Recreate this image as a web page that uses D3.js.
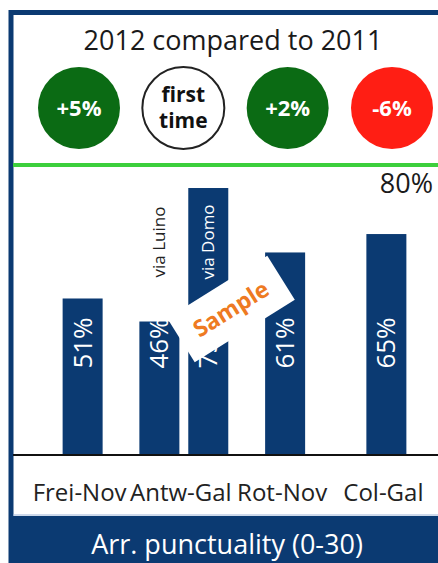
<!DOCTYPE html>
<html>
<head>
<meta charset="utf-8">
<script src="https://cdn.jsdelivr.net/npm/d3@7"></script>
<style>
  body { margin: 0; background: #fff; }
  text { font-family: "Open Sans", "Noto Sans", sans-serif; }
</style>
</head>
<body>
<svg id="chart" width="438" height="563"></svg>
<script>
// data
var title = "2012 compared to 2011";
var categories = ["Frei-Nov", "Antw-Gal", "Rot-Nov", "Col-Gal"];
var changes = ["+5%", "first time", "+2%", "-6%"];
var barRoute = ["Frei-Nov", "Antw-Gal", "Antw-Gal", "Rot-Nov", "Col-Gal"];
var barVia = ["", "via Luino", "via Domo", "", ""];
var barValues = [51, 46, 75, 61, 65];
var target = 80;
var footer = "Arr. punctuality (0-30)";

var navy = "#0b3a72",
    green = "#0b6b14",
    red = "#ff1e14",
    lineGreen = "#3ccf3c";

var svg = d3.select("#chart"),
    W = +svg.attr("width"),
    H = +svg.attr("height");

var base = 455, bandTop = 516;

var x = d3.scaleBand()
    .domain(categories)
    .range([32, 437]);

var y = d3.scaleLinear()
    .domain([17, target])
    .range([base, 165]);

var sub = d3.scaleBand()
    .domain(["via Luino", "via Domo"])
    .range([-44.5, 44.5])
    .paddingInner(0.18);

var head = d3.scalePoint()
    .domain(categories)
    .range([79, 392]);

var bars = barValues.map(function(v, i) {
  return {route: barRoute[i], via: barVia[i], value: v};
});

var barW = 40;
function barX(d) {
  var c = x(d.route) + x.bandwidth() / 2;
  if (d.via) return c + sub(d.via);
  return c - barW / 2;
}

// frame
svg.append("rect")
    .attr("x", 11).attr("y", 12.5)
    .attr("width", W + 10).attr("height", H)
    .attr("fill", "#fff")
    .attr("stroke", navy)
    .attr("stroke-width", 5);

// title
svg.append("text")
    .attr("x", 233).attr("y", 50)
    .attr("text-anchor", "middle")
    .attr("font-size", 27)
    .attr("fill", "#1a1a1a")
    .text(title);

// change circles
var circ = svg.append("g").selectAll("g")
    .data(changes)
  .enter().append("g")
    .attr("transform", function(d, i) { return "translate(" + head(categories[i]) + ",108)"; });

circ.append("circle")
    .attr("r", 41)
    .attr("fill", function(d) { return d[0] == "+" ? green : d[0] == "-" ? red : "#fff"; })
    .attr("stroke", function(d) { return d[0] == "+" || d[0] == "-" ? "none" : "#222"; })
    .attr("stroke-width", 2);

circ.each(function(d) {
  var g = d3.select(this);
  var words = d.split(" ");
  var t = g.append("text")
      .attr("text-anchor", "middle")
      .attr("font-weight", "bold")
      .attr("font-size", words.length > 1 ? 21 : 22)
      .attr("fill", words.length > 1 ? "#111" : "#fff");
  if (words.length > 1) {
    t.append("tspan").attr("x", 0).attr("y", -6).text(words[0]);
    t.append("tspan").attr("x", 0).attr("y", 20).text(words[1]);
  } else {
    t.attr("y", 8).text(d);
  }
});

// target line
svg.append("line")
    .attr("x1", 13).attr("x2", W)
    .attr("y1", y(target)).attr("y2", y(target))
    .attr("stroke", lineGreen)
    .attr("stroke-width", 4);

svg.append("text")
    .attr("x", 433).attr("y", 193)
    .attr("text-anchor", "end")
    .attr("font-size", 27)
    .attr("fill", "#1a1a1a")
    .text(target + "%");

// bars
svg.append("g").selectAll("rect")
    .data(bars)
  .enter().append("rect")
    .attr("x", barX)
    .attr("y", function(d) { return y(d.value); })
    .attr("width", barW)
    .attr("height", function(d) { return base - y(d.value); })
    .attr("fill", navy);

// value labels
svg.append("g").selectAll("text")
    .data(bars)
  .enter().append("text")
    .attr("transform", function(d) {
      return "translate(" + (barX(d) + barW / 2 + 9) + "," + (base - 112) + ") rotate(-90)";
    })
    .attr("text-anchor", "middle")
    .attr("font-size", 26)
    .attr("fill", "#fff")
    .text(function(d) { return d.value + "%"; });

// via labels
svg.append("g").selectAll("text")
    .data(bars.filter(function(d) { return d.via; }))
  .enter().append("text")
    .attr("transform", function(d) {
      return "translate(" + (barX(d) + barW / 2 + 6) + ",242) rotate(-90)";
    })
    .attr("text-anchor", "middle")
    .attr("font-size", 17)
    .attr("fill", function(d) { return d.value > 70 ? "#fff" : "#222"; })
    .text(function(d) { return d.via; });

// sample sticker
var st = svg.append("g")
    .attr("transform", "translate(231,309) rotate(-32)");
st.append("rect")
    .attr("x", -59).attr("y", -26)
    .attr("width", 118).attr("height", 52)
    .attr("fill", "#fff");
st.append("text")
    .attr("y", 8)
    .attr("text-anchor", "middle")
    .attr("font-size", 23)
    .attr("font-weight", "bold")
    .attr("fill", "#ee7a22")
    .text("Sample");

// baseline + category axis
svg.append("line")
    .attr("x1", 13).attr("x2", W)
    .attr("y1", base).attr("y2", base)
    .attr("stroke", "#111")
    .attr("stroke-width", 2);

var xAxis = svg.append("g")
    .attr("transform", "translate(-3," + base + ")")
    .call(d3.axisBottom(x).tickSize(0).tickPadding(29));
xAxis.select(".domain").remove();
xAxis.selectAll("text")
    .attr("font-family", "'Open Sans', 'Noto Sans', sans-serif")
    .attr("font-size", 24)
    .attr("fill", "#222");

// footer band
svg.append("rect")
    .attr("x", 9).attr("y", bandTop)
    .attr("width", W).attr("height", H - bandTop)
    .attr("fill", navy);
svg.append("line")
    .attr("x1", 13).attr("x2", W)
    .attr("y1", bandTop - 1).attr("y2", bandTop - 1)
    .attr("stroke", "#9cb3d6")
    .attr("stroke-width", 1);

svg.append("text")
    .attr("x", 227).attr("y", 554)
    .attr("text-anchor", "middle")
    .attr("font-size", 27)
    .attr("fill", "#fff")
    .text(footer);
</script>
</body>
</html>
